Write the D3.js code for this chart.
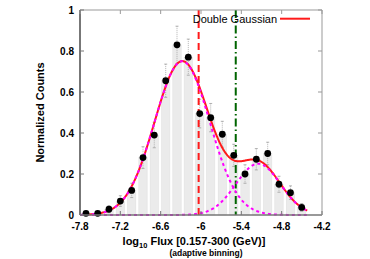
<!DOCTYPE html>
<html><head><meta charset="utf-8">
<script src="https://cdn.jsdelivr.net/npm/d3@7"></script>
<style>body{margin:0;background:#fff}svg{display:block}</style>
</head><body>
<svg id="c" width="370" height="259"></svg>
<script>
// ---- data ----
const binCenters = [-7.711,-7.537,-7.369,-7.200,-7.031,-6.863,-6.695,-6.525,-6.357,-6.189,-6.019,-5.856,-5.683,-5.513,-5.345,-5.177,-5.008,-4.840,-4.669,-4.502];
const counts     = [0.008,0.008,0.028,0.068,0.120,0.280,0.390,0.655,0.830,0.770,0.495,0.475,0.394,0.291,0.200,0.272,0.300,0.150,0.109,0.037];
const errors     = [0.009,0.009,0.017,0.026,0.035,0.053,0.062,0.081,0.091,0.088,0.070,0.069,0.063,0.054,0.045,0.052,0.055,0.039,0.033,0.019];
// fitted Gaussian components: [amplitude, mean, sigma]
const gauss1 = [0.75, -6.28, 0.41];
const gauss2 = [0.25, -5.15, 0.33];
const fitRange = [-7.75, -4.42];
const compRange = [-7.8, -4.42];
const redLineX = -6.035;
const greenLineX = -5.483;
const xTicks = [-7.8,-7.2,-6.6,-6,-5.4,-4.8,-4.2];
const yTicks = [0,0.2,0.4,0.6,0.8,1];
const legendLabel = "Double Gaussian";

// ---- layout ----
const svg = d3.select("#c");
const L=80, R=322, T=10, B=215;
const x = d3.scaleLinear().domain([-7.8,-4.2]).range([L,R]);
const y = d3.scaleLinear().domain([0,1]).range([B,T]);
const font = "'Liberation Sans', Arial, Helvetica, sans-serif";

const g = (p, v) => p[0]*Math.exp(-((v-p[1])**2)/(2*p[2]*p[2]));
const sample = (r) => d3.range(0, 301).map(i => r[0] + (r[1]-r[0])*i/300);

// bars
const halfW = 0.062;
svg.append("g").selectAll("rect").data(binCenters).join("rect")
  .attr("x", (d)=>x(d-halfW)).attr("width", (d)=>x(d+halfW)-x(d-halfW))
  .attr("y", (d,i)=>y(counts[i])).attr("height",(d,i)=>y(0)-y(counts[i]))
  .attr("fill","#ebebeb").attr("stroke","#dedede").attr("stroke-width",0.5);

// error bars
const eg = svg.append("g").attr("stroke","#a0a0a0").attr("stroke-width",0.8);
binCenters.forEach((c,i)=>{
  const x0=x(c), y1=y(counts[i]+errors[i]), y2=y(counts[i]-errors[i]);
  eg.append("line").attr("x1",x0).attr("x2",x0).attr("y1",y1).attr("y2",y2).attr("stroke-dasharray","1,1");
  eg.append("line").attr("x1",x0-1.5).attr("x2",x0+1.5).attr("y1",y1).attr("y2",y1);
  eg.append("line").attr("x1",x0-1.5).attr("x2",x0+1.5).attr("y1",y2).attr("y2",y2);
});

// vertical lines
svg.append("line").attr("x1",x(redLineX)).attr("x2",x(redLineX)).attr("y1",T).attr("y2",B)
  .attr("stroke","#ff1a1a").attr("stroke-width",2).attr("stroke-dasharray","7,4");
svg.append("line").attr("x1",x(greenLineX)).attr("x2",x(greenLineX)).attr("y1",T).attr("y2",B)
  .attr("stroke","#006400").attr("stroke-width",2).attr("stroke-dasharray","8,3,1.5,3");

// curves
const line = d3.line().x(d=>x(d[0])).y(d=>y(d[1]));
svg.append("path").datum(sample(fitRange).map(v=>[v, g(gauss1,v)+g(gauss2,v)]))
  .attr("d",line).attr("fill","none").attr("stroke","#ff1a1a").attr("stroke-width",2);
[gauss1,gauss2].forEach(p=>{
  svg.append("path").datum(sample(compRange).map(v=>[v, g(p,v)]))
    .attr("d",line).attr("fill","none").attr("stroke","#ff00ff").attr("stroke-width",2)
    .attr("stroke-dasharray","3,3");
});

// points
svg.append("g").selectAll("circle").data(binCenters).join("circle")
  .attr("cx",d=>x(d)).attr("cy",(d,i)=>y(counts[i])).attr("r",3.4).attr("fill","#000");

// frame & ticks
const fr = svg.append("g").attr("fill","none");
fr.append("line").attr("x1",L).attr("x2",R).attr("y1",T).attr("y2",T).attr("stroke","#999").attr("stroke-width",1);
fr.append("line").attr("x1",R).attr("x2",R).attr("y1",T).attr("y2",B).attr("stroke","#999").attr("stroke-width",1);
fr.append("line").attr("x1",L).attr("x2",R).attr("y1",B).attr("y2",B).attr("stroke","#777").attr("stroke-width",1.5);
fr.append("line").attr("x1",L).attr("x2",L).attr("y1",T).attr("y2",B).attr("stroke","#777").attr("stroke-width",2);

xTicks.forEach(t=>{
  fr.append("line").attr("x1",x(t)).attr("x2",x(t)).attr("y1",B).attr("y2",B-4).attr("stroke","#777");
  fr.append("line").attr("x1",x(t)).attr("x2",x(t)).attr("y1",T).attr("y2",T+4).attr("stroke","#999");
});
yTicks.forEach(t=>{
  fr.append("line").attr("x1",L).attr("x2",L+4).attr("y1",y(t)).attr("y2",y(t)).attr("stroke","#777");
  fr.append("line").attr("x1",R).attr("x2",R-4).attr("y1",y(t)).attr("y2",y(t)).attr("stroke","#999");
});

// tick labels
const fmt = d3.format("");
svg.append("g").selectAll("text").data(xTicks).join("text")
  .attr("x",d=>x(d)).attr("y",B+15).attr("text-anchor","middle")
  .attr("font-family",font).attr("font-weight","bold").attr("font-size","10px").text(d=>fmt(d).replace("−","-"));
svg.append("g").selectAll("text").data(yTicks).join("text")
  .attr("x",L-6).attr("y",d=>y(d)+3.6).attr("text-anchor","end")
  .attr("font-family",font).attr("font-weight","bold").attr("font-size","10px").text(d=>fmt(d));

// axis titles
const xt = svg.append("text").attr("x",194).attr("y",244.5).attr("text-anchor","middle")
  .attr("font-family",font).attr("font-weight","bold").attr("font-size","11px");
xt.append("tspan").text("log");
xt.append("tspan").attr("font-size","7.5px").attr("dy",3.5).text("10");
xt.append("tspan").attr("dy",-3.5).text(" Flux [0.157-300 (GeV)]");
svg.append("text").attr("x",206).attr("y",255.5).attr("text-anchor","middle")
  .attr("font-family",font).attr("font-weight","bold").attr("font-size","8.5px").text("(adaptive binning)");
svg.append("text").attr("transform","translate(43.5,112.5) rotate(-90)").attr("text-anchor","middle")
  .attr("font-family",font).attr("font-weight","bold").attr("font-size","11px").text("Normalized Counts");

// legend
svg.append("text").attr("x",192.7).attr("y",22.5).attr("font-family",font).attr("font-size","11px").text(legendLabel);
svg.append("line").attr("x1",280).attr("x2",310).attr("y1",18.7).attr("y2",18.7).attr("stroke","#ff1a1a").attr("stroke-width",2);
</script>
</body></html>
